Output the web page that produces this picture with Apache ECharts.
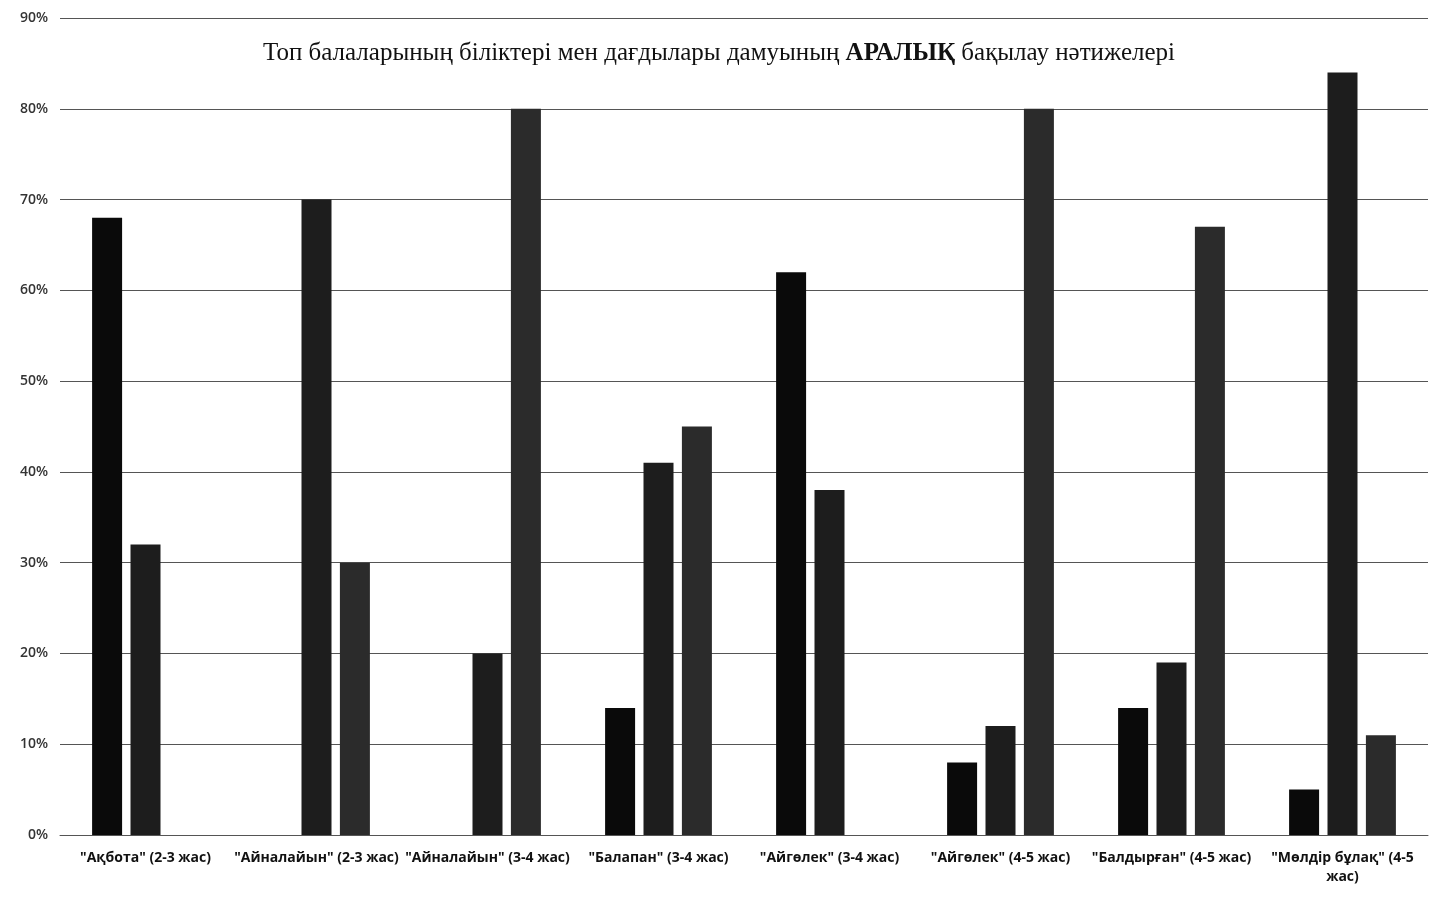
<!DOCTYPE html>
<html>
<head>
<meta charset="utf-8">
<script src="https://cdn.jsdelivr.net/npm/echarts@6/dist/echarts.min.js"></script>
<style>
html,body{margin:0;padding:0;background:#fff;}
#chart{width:1438px;height:905px;}
</style>
</head>
<body>
<div id="chart"></div>
<script>
// Categories (groups)
const categories = [
  '"Ақбота" (2-3 жас)',
  '"Айналайын" (2-3 жас)',
  '"Айналайын" (3-4 жас)',
  '"Балапан" (3-4 жас)',
  '"Айгөлек" (3-4 жас)',
  '"Айгөлек" (4-5 жас)',
  '"Балдырған" (4-5 жас)',
  '"Мөлдір бұлақ" (4-5 жас)'
];
// Series values, percent (0 = no bar)
const series1 = [68, 0, 0, 14, 62, 8, 14, 5];
const series2 = [32, 70, 20, 41, 38, 12, 19, 84];
const series3 = [0, 30, 80, 45, 0, 80, 67, 11];
// Y axis ticks
const yMin = 0, yMax = 90, yStep = 10;

const titleStart = 'Топ балаларының біліктері мен дағдылары дамуының ';
const titleBold = 'АРАЛЫҚ';
const titleEnd = ' бақылау нәтижелері';

function wrapLabel(s) {
  if (s.length <= 21) return s;
  const cut = s.lastIndexOf(' ', 19);
  return s.slice(0, cut) + '\n' + s.slice(cut + 1);
}

const chart = echarts.init(document.getElementById('chart'), null, {renderer: 'canvas'});
const barColors = ['#0a0a0a', '#1d1d1d', '#2b2b2b'];
const allSeries = [series1, series2, series3].map((d, i) => ({
  type: 'bar',
  data: d.map(v => v === 0 ? null : v),
  barWidth: 30,
  barGap: '28%',
  itemStyle: {color: barColors[i]}
}));

chart.setOption({
  animation: false,
  backgroundColor: '#ffffff',
  title: {
    text: '{a|' + titleStart + '}{b|' + titleBold + '}{a|' + titleEnd + '}',
    left: 'center',
    top: 36,
    textStyle: {
      fontWeight: 'normal',
      rich: {
        a: {fontFamily: 'Liberation Serif', fontSize: 25, fontWeight: 'normal', color: '#111'},
        b: {fontFamily: 'Liberation Serif', fontSize: 25, fontWeight: 'bold', color: '#111'}
      }
    }
  },
  grid: {left: 60, right: 10, top: 18, bottom: 70, containLabel: false},
  xAxis: {
    type: 'category',
    data: categories,
    axisLine: {show: true, lineStyle: {color: '#555', width: 1}},
    axisTick: {show: false},
    axisLabel: {
      interval: 0,
      margin: 14,
      fontFamily: 'Open Sans',
      fontWeight: 'bold',
      fontSize: 14,
      color: '#111',
      lineHeight: 19,
      formatter: wrapLabel
    }
  },
  yAxis: {
    type: 'value',
    min: yMin,
    max: yMax,
    interval: yStep,
    axisLine: {show: false},
    axisTick: {show: false},
    axisLabel: {
      formatter: '{value}%',
      fontFamily: 'Open Sans',
      fontWeight: 600,
      fontSize: 14,
      color: '#333',
      margin: 12
    },
    splitLine: {lineStyle: {color: '#555', width: 1}}
  },
  series: allSeries
});
</script>
</body>
</html>
